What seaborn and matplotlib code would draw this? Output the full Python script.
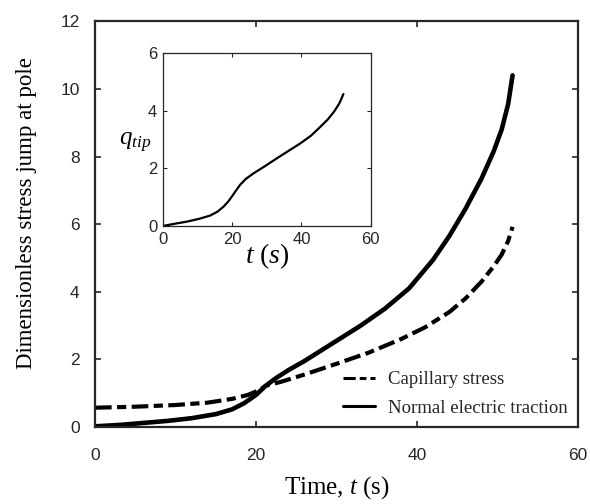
import numpy as np
import pandas as pd
import matplotlib
matplotlib.use('Agg')
import matplotlib.pyplot as plt
import seaborn as sns

# main plot data
t_elec = [0, 3, 6, 9, 12, 15, 17, 18.5, 20, 21.2, 22.5, 24, 26, 28, 30, 33, 36, 39, 42, 44, 46, 48, 49.5, 50.5, 51.3, 51.85]
elec = [0.02, 0.06, 0.12, 0.18, 0.26, 0.38, 0.52, 0.7, 0.95, 1.22, 1.45, 1.68, 1.95, 2.25, 2.55, 3.0, 3.5, 4.1, 4.95, 5.65, 6.45, 7.35, 8.15, 8.8, 9.55, 10.4]

t_cap = [0, 5, 10, 14, 17, 19, 20.5, 21.2, 23, 26, 30, 34, 38, 41, 44, 46, 48, 49.5, 50.5, 51.3, 51.85]
cap = [0.57, 0.6, 0.65, 0.72, 0.83, 0.95, 1.1, 1.22, 1.33, 1.55, 1.87, 2.2, 2.6, 2.95, 3.4, 3.8, 4.3, 4.75, 5.1, 5.5, 5.92]

# inset data: q_tip vs t
t_tip = [0, 3.5, 6.9, 10.5, 13.6, 15.8, 17.5, 18.8, 19.9, 21.1, 22.3, 24.0, 26.2, 29.5, 32.9, 36.3, 39.7, 42.8, 45.5, 47.6, 49.4, 50.9, 52.1]
q_tip = [0.0, 0.08, 0.15, 0.25, 0.36, 0.5, 0.67, 0.84, 1.02, 1.23, 1.43, 1.64, 1.83, 2.08, 2.35, 2.61, 2.87, 3.14, 3.45, 3.7, 3.97, 4.25, 4.58]

main_ticks = [0, 20, 40, 60]
y_ticks = [0, 2, 4, 6, 8, 10, 12]
inset_yticks = [0, 2, 4, 6]

sns.set_theme(style='ticks')
plt.rcParams['font.family'] = ['Liberation Sans', 'DejaVu Sans']
plt.rcParams['mathtext.fontset'] = 'custom'
plt.rcParams['mathtext.rm'] = 'Liberation Serif'
plt.rcParams['mathtext.it'] = 'Liberation Serif:italic'

dark = '#262626'
serif = ['Liberation Serif', 'DejaVu Serif']

fig = plt.figure(figsize=(5.9, 5.04), dpi=100)
ax = fig.add_axes([0.161, 0.1528, 0.819, 0.805])

df_cap = pd.DataFrame({'t': t_cap, 'v': cap})
df_elec = pd.DataFrame({'t': t_elec, 'v': elec})

sns.lineplot(data=df_cap, x='t', y='v', ax=ax, color='black', lw=3.0,
             label='Capillary stress', sort=False)
sns.lineplot(data=df_elec, x='t', y='v', ax=ax, color='black', lw=3.3,
             label='Normal electric traction', sort=False)
ax.lines[0].set_dashes([4, 1.3, 2.2, 1.3])
ax.lines[0].set_dash_capstyle('butt')

ax.set_xlim(0, 60)
ax.set_ylim(0, 12)
ax.set_xticks(main_ticks)
ax.set_yticks(y_ticks)
ax.tick_params(direction='in', top=True, right=True, length=4, width=1.2,
               labelsize=12.5, colors=dark)
ax.tick_params(axis='x', pad=15)
ax.tick_params(axis='y', pad=11)
for s in ax.spines.values():
    s.set_linewidth(1.6)
    s.set_color(dark)

ax.set_xlabel('Time, $t$ (s)', family=serif, fontsize=18, color='black', labelpad=8)
ax.set_ylabel('Dimensionless stress jump at pole', family=serif, fontsize=16.5,
              color='black')
ax.yaxis.set_label_coords(-0.119, 0.527)

leg = ax.legend(loc='lower right', frameon=False, handlelength=1.7,
                borderaxespad=0.15, labelspacing=0.6, handletextpad=0.7,
                prop={'family': serif, 'size': 13.5})
for h in leg.get_lines():
    h.set_linewidth(2.2)

# inset
ins = fig.add_axes([0.276, 0.5516, 0.3525, 0.343])
df_tip = pd.DataFrame({'t': t_tip, 'q': q_tip})
sns.lineplot(data=df_tip, x='t', y='q', ax=ins, color='black', lw=1.6, sort=False)
ins.set_xlim(0, 60)
ins.set_ylim(0, 6)
ins.set_xticks(main_ticks)
ins.set_yticks(inset_yticks)
ins.tick_params(direction='in', top=True, right=True, length=3, width=0.8,
                labelsize=12, colors=dark, pad=4)
for s in ins.spines.values():
    s.set_linewidth(0.9)
    s.set_color(dark)
ins.set_xlabel('$t\\ (s)$', fontsize=20, color='black', labelpad=-4)
ins.set_ylabel('$q_{tip}$', fontsize=18, color='black', rotation=0, ha='center', va='center')
ins.yaxis.set_label_coords(-0.135, 0.48)

fig.savefig('out.png', dpi=100)
